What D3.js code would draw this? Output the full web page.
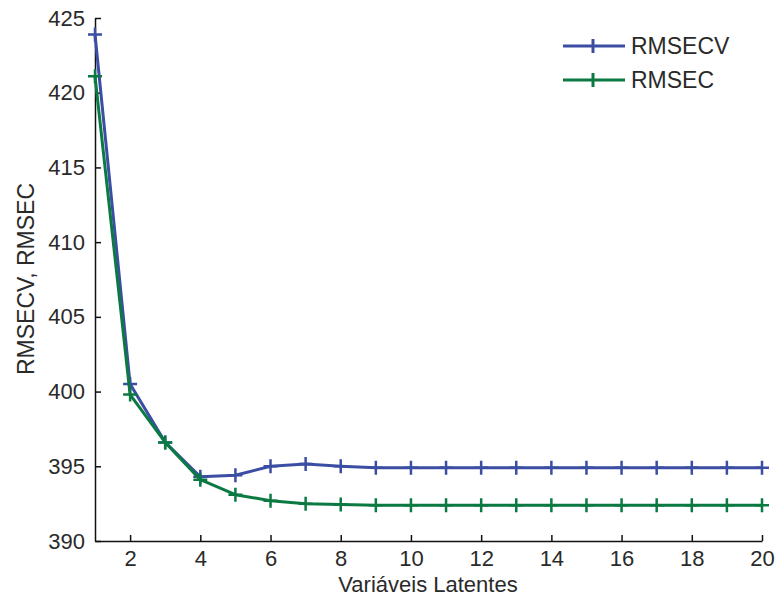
<!DOCTYPE html>
<html><head><meta charset="utf-8">
<script src="https://cdn.jsdelivr.net/npm/d3@7"></script>
<style>body{margin:0;background:#fff}svg{display:block}text{font-family:"Liberation Sans",Arial,sans-serif;fill:#2a2a2a}</style>
</head><body><svg id="c" width="776" height="603"></svg>
<script>
const xs = [1,2,3,4,5,6,7,8,9,10,11,12,13,14,15,16,17,18,19,20];
const rmsecv = [423.9,400.5,396.6,394.3,394.4,395.0,395.15,395.0,394.9,394.9,394.9,394.9,394.9,394.9,394.9,394.9,394.9,394.9,394.9,394.9];
const rmsec  = [421.1,399.8,396.6,394.1,393.1,392.7,392.5,392.45,392.4,392.4,392.4,392.4,392.4,392.4,392.4,392.4,392.4,392.4,392.4,392.4];
const xTicks = [2,4,6,8,10,12,14,16,18,20];
const yTicks = [390,395,400,405,410,415,420,425];
const seriesNames = ["RMSECV","RMSEC"];
const colors = ["#3b4ea3","#0b7a42"];

const svg = d3.select("#c");
const L=95,R=762,T=18,B=541;
const x = d3.scaleLinear().domain([1,20]).range([L,R]);
const y = d3.scaleLinear().domain([390,425]).range([B,T]);

// axes (ticks inward)
const gx = svg.append("g").attr("transform",`translate(0,${B})`)
  .call(d3.axisBottom(x).tickValues(xTicks).tickSizeInner(-6).tickSizeOuter(0));
const gy = svg.append("g").attr("transform",`translate(${L},0)`)
  .call(d3.axisLeft(y).tickValues(yTicks).tickSizeInner(-6).tickSizeOuter(0).tickPadding(10));
[gx,gy].forEach(g=>{
  g.selectAll("path,line").attr("stroke","#111").attr("stroke-width",1.5);
  g.selectAll("text").style("font-size","22px").attr("fill","#2a2a2a");
});
gx.selectAll("text").attr("y",25).attr("dy",0);

const data=[rmsecv,rmsec];
const line = d3.line().x((d,i)=>x(xs[i])).y(d=>y(d));
const m=7;
data.forEach((s,k)=>{
  svg.append("path").datum(s).attr("d",line).attr("fill","none")
    .attr("stroke",colors[k]).attr("stroke-width",3).attr("stroke-linejoin","round");
  const g=svg.append("g");
  s.forEach((v,i)=>{
    const cx=x(xs[i]), cy=y(v);
    g.append("path").attr("d",`M${cx-m},${cy}H${cx+m}M${cx},${cy-m}V${cy+m}`)
      .attr("stroke",colors[k]).attr("stroke-width",2.5).attr("fill","none");
  });
});

// legend
seriesNames.forEach((n,k)=>{
  const ly=46+k*34;
  svg.append("line").attr("x1",563).attr("x2",625).attr("y1",ly).attr("y2",ly)
    .attr("stroke",colors[k]).attr("stroke-width",3);
  svg.append("path").attr("d",`M593,${ly-7}V${ly+7}`).attr("stroke",colors[k]).attr("stroke-width",3);
  svg.append("text").attr("x",631).attr("y",ly).attr("dy","0.36em").style("font-size","23px").text(n);
});

svg.append("text").attr("x",428).attr("y",592).attr("text-anchor","middle").style("font-size","22px").text("Variáveis Latentes");
svg.append("text").attr("transform","translate(34,279) rotate(-90)").attr("text-anchor","middle").style("font-size","23px").text("RMSECV, RMSEC");
</script></body></html>
